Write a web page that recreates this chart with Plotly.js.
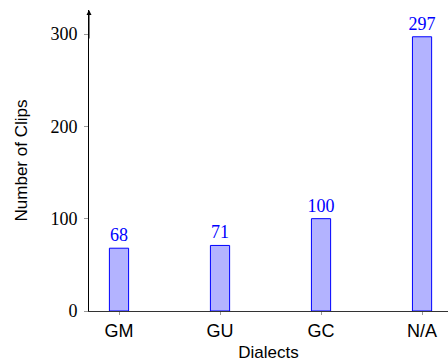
<!DOCTYPE html>
<html>
<head>
<meta charset="utf-8">
<script src="https://cdn.plot.ly/plotly-3.0.1.min.js"></script>
<style>
  html, body { margin: 0; padding: 0; background: #fff; }
  #chart { width: 448px; height: 362px; }
</style>
</head>
<body>
<div id="chart"></div>
<script>
// Clip counts per dialect
const dialects = ['GM', 'GU', 'GC', 'N/A'];
const clipCounts = [68, 71, 100, 297];
const yTicks = [0, 100, 200, 300];

const fillBlue = '#b3b3ff';
const lineBlue = '#0000ff';
const serif = '"Liberation Serif", "DejaVu Serif", serif';
const sans = '"Liberation Sans", Arial, sans-serif';

const bars = {
  type: 'bar',
  x: dialects,
  y: clipCounts,
  width: 0.19,
  marker: { color: fillBlue, line: { color: lineBlue, width: 1 } },
  text: clipCounts.map(String),
  textposition: 'outside',
  constraintext: 'none',
  cliponaxis: false,
  textfont: { family: serif, size: 18, color: lineBlue },
  hoverinfo: 'x+y'
};

const layout = {
  width: 448,
  height: 362,
  margin: { l: 89, r: 0, t: 10, b: 51 },
  paper_bgcolor: '#fff',
  plot_bgcolor: '#fff',
  showlegend: false,
  xaxis: {
    type: 'category',
    range: [-0.297, 3.257],
    showline: true,
    linecolor: '#333',
    linewidth: 1,
    ticks: 'outside',
    ticklen: 3,
    tickcolor: '#999',
    tickfont: { family: sans, size: 18, color: '#000' },
    showgrid: false,
    zeroline: false,
    title: { text: 'Dialects', font: { family: sans, size: 17, color: '#000' }, standoff: 6 }
  },
  yaxis: {
    range: [0, 326],
    tickvals: yTicks,
    ticktext: yTicks.map(String),
    showline: true,
    linecolor: '#000',
    linewidth: 1,
    ticks: 'outside',
    ticklen: 4,
    tickcolor: '#999',
    tickfont: { family: serif, size: 18, color: '#000' },
    ticklabelstandoff: 3,
    showgrid: false,
    zeroline: false,
    title: { text: 'Number of Clips', font: { family: sans, size: 17, color: '#000' }, standoff: 18 }
  },
  yaxis2: {
    overlaying: 'y',
    anchor: 'x',
    side: 'left',
    range: [0, 326],
    tickvals: yTicks,
    showticklabels: false,
    ticks: 'inside',
    ticklen: 4,
    tickcolor: '#999',
    showline: false,
    showgrid: false,
    zeroline: false
  },
  annotations: [{
    xref: 'paper', yref: 'paper',
    x: 0, y: 1,
    ax: 0, ay: 30,
    axref: 'pixel', ayref: 'pixel',
    text: '',
    showarrow: true,
    arrowhead: 2,
    arrowsize: 1,
    arrowwidth: 1,
    arrowcolor: '#000'
  }]
};

Plotly.newPlot('chart', [bars], layout, { displayModeBar: false, staticPlot: true });
</script>
</body>
</html>
